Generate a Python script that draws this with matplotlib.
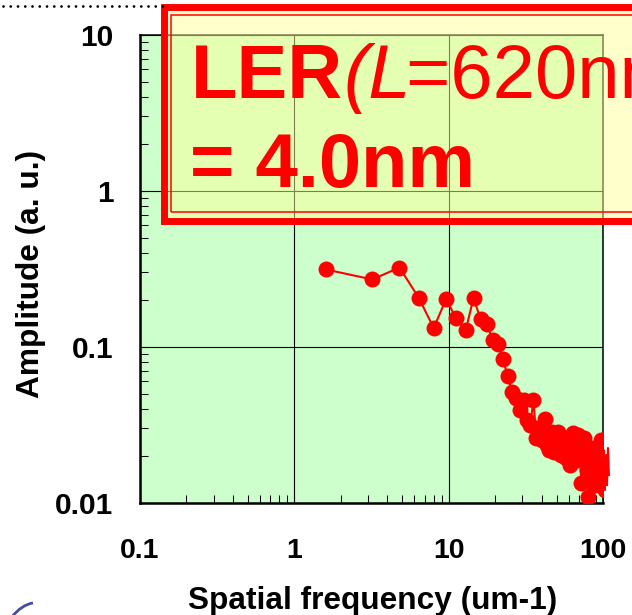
import matplotlib
matplotlib.use('Agg')
import matplotlib.pyplot as plt
from matplotlib.patches import Rectangle, PathPatch
from matplotlib.lines import Line2D
from matplotlib.path import Path
from matplotlib.ticker import LogLocator, NullFormatter

# ---------------- data ----------------
freq = [1.6, 3.2, 4.8, 6.4, 8.0, 9.6, 11.2, 12.9, 14.5, 16.1, 17.7, 19.3,
        20.9, 22.5, 24.1, 25.7, 27.3, 28.9, 30.6, 32.2, 33.8, 35.4, 37.0,
        38.6, 40.2, 41.8, 43.4, 45.0, 46.6, 48.2, 49.8, 51.4, 53.1, 54.7,
        56.3, 57.9, 59.5, 61.1, 62.7, 64.3, 65.9, 67.5, 69.1, 70.7, 72.3,
        73.9, 75.6, 77.2, 78.8, 80.4, 82.0, 83.6, 85.2, 86.8, 88.4, 90.0,
        91.6, 93.2, 94.8, 96.4, 98.0, 99.6, 101.2, 102.8, 104.5, 106.1,
        107.7, 109.3]
amplitude = [0.313, 0.27, 0.322, 0.206, 0.132, 0.201, 0.153, 0.128, 0.206,
             0.150, 0.141, 0.110, 0.104, 0.083, 0.065, 0.0515,
             0.047, 0.0394, 0.0456, 0.034, 0.0316, 0.0456, 0.026, 0.0302,
             0.0253, 0.0345, 0.0235, 0.0218, 0.0285, 0.0212, 0.0253, 0.0285,
             0.0203, 0.0235, 0.026, 0.0194, 0.0228, 0.0175, 0.0245, 0.028,
             0.0212, 0.0188, 0.0272, 0.0225, 0.0134, 0.0203, 0.026, 0.0183,
             0.0163, 0.0109, 0.0203, 0.0151, 0.0225, 0.0167, 0.013, 0.0188,
             0.0158, 0.0203, 0.0145, 0.0253, 0.0175, 0.0145, 0.0218, 0.0121,
             0.0203, 0.013, 0.0225, 0.0151]
x_ticks = [0.1, 1, 10, 100]
x_ticklabels = ['0.1', '1', '10', '100']
y_ticks = [0.01, 0.1, 1, 10]
y_ticklabels = ['0.01', '0.1', '1', '10']
x_label = 'Spatial frequency (um-1)'
y_label = 'Amplitude (a. u.)'

plt.rcParams['font.family'] = ['Liberation Sans', 'DejaVu Sans']

W, H = 632, 615
fig = plt.figure(figsize=(W / 100, H / 100), dpi=100)


def fx(p):
    return p / W


def fy(p):
    return 1 - p / H


ax = fig.add_axes([fx(140), fy(503), (603 - 140) / W, (503 - 34.5) / H])
ax.set_facecolor('#ccffcc')
ax.set_xscale('log')
ax.set_yscale('log')
ax.set_xlim(0.1, 100)
ax.set_ylim(0.01, 10)
ax.set_axisbelow(True)
ax.grid(True, which='major', color='black', lw=0.8)

ax.plot(freq, amplitude, '-', color='red', lw=1.5, clip_on=False, zorder=3)
ax.plot(freq, amplitude, 'o', color='red', ms=11.5, mec='none', zorder=4)

ax.set_xticks(x_ticks)
ax.set_xticklabels(x_ticklabels)
ax.set_yticks(y_ticks)
ax.set_yticklabels(y_ticklabels)
ax.xaxis.set_minor_locator(LogLocator(base=10, subs=range(2, 10)))
ax.yaxis.set_minor_locator(LogLocator(base=10, subs=range(2, 10)))
ax.xaxis.set_minor_formatter(NullFormatter())
ax.yaxis.set_minor_formatter(NullFormatter())
ax.tick_params(which='both', direction='in', top=False, right=False,
               length=6, width=0.75, color='black')
ax.tick_params(axis='x', which='major', pad=25, labelsize=20.5)
ax.tick_params(axis='y', which='major', pad=19, labelsize=21.5)
for lab in ax.get_xticklabels() + ax.get_yticklabels():
    lab.set_fontweight('bold')

for side in ['left', 'bottom']:
    ax.spines[side].set_linewidth(1.8)
for side in ['top', 'right']:
    ax.spines[side].set_linewidth(1.1)

fig.text(fx(373), fy(609), x_label, ha='center', va='baseline',
         fontsize=22.8, fontweight='bold')
fig.text(fx(31), fy(274), y_label, ha='center', va='center', rotation=90,
         fontsize=22.8, fontweight='bold')

# dotted line at top
fig.add_artist(Line2D([fx(2.7), fx(165)], [fy(6), fy(6)],
                      transform=fig.transFigure, color='black', lw=2.0,
                      dashes=(0.01, 2.6), dash_capstyle='round'))

# annotation box
outer = Rectangle((fx(163.5), fy(221.5)), fx(900) - fx(163.5),
                  (221.5 - 7) / H, transform=fig.transFigure,
                  facecolor=(1, 1, 0.6, 0.5), edgecolor='red', lw=5.0)
fig.add_artist(outer)
inner = Rectangle((fx(171), fy(212.5)), fx(900) - fx(171),
                  (212.5 - 15) / H, transform=fig.transFigure,
                  facecolor='none', edgecolor='red', lw=1.1)
fig.add_artist(inner)

fs = 54.7
fig.text(fx(190.5), fy(98.3), 'LER', color='red', fontsize=fs,
         fontweight='bold', va='baseline', ha='left', zorder=5)
fig.text(fx(343), fy(98.3), '(L', color='red', fontsize=fs,
         style='italic', va='baseline', ha='left', zorder=5)
fig.text(fx(406), fy(98.3), '=620nm) 3σ', color='red', fontsize=fs,
         va='baseline', ha='left', zorder=5)
fig.text(fx(190.5), fy(186.7), '= 4.0nm', color='red', fontsize=fs,
         fontweight='bold', va='baseline', ha='left', zorder=5)

# small purple swoosh fragment at bottom-left
verts = [(fx(12), fy(617)), (fx(18), fy(609)), (fx(26), fy(604)), (fx(33), fy(603))]
swoosh = PathPatch(Path(verts, [Path.MOVETO, Path.CURVE4, Path.CURVE4, Path.CURVE4]),
                   transform=fig.transFigure, facecolor='none',
                   edgecolor='#4a4aa0', lw=2.0)
fig.add_artist(swoosh)

fig.savefig('out.png', dpi=100)
